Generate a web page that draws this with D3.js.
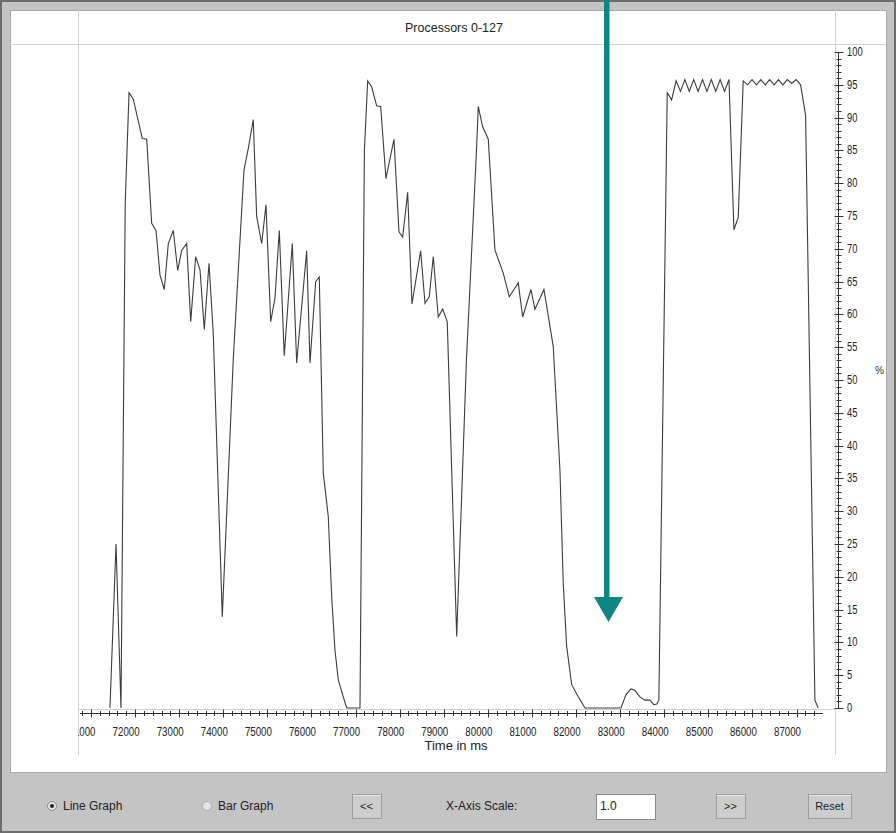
<!DOCTYPE html>
<html>
<head>
<meta charset="utf-8">
<script src="https://cdn.jsdelivr.net/npm/d3@7"></script>
<style>
  body { margin: 0; background: #c4c4c4; }
  svg { display: block; font-family: "Liberation Sans", Arial, sans-serif; }
</style>
</head>
<body>
<svg id="chart" width="896" height="833"></svg>
<script>
// Processor utilisation over time (%)
var timeMs = [71430, 71567, 71680, 71776, 71862, 71959, 72163, 72263, 72376, 72474,
  72565, 72662, 72753, 72866, 72966, 73057, 73170, 73261, 73374, 73472,
  73569, 73676, 73773, 73977, 74227, 74469, 74567, 74680, 74757, 74871,
  74968, 75075, 75172, 75270, 75383, 75565, 75664, 75891, 75966, 76095,
  76177, 76268, 76381, 76458, 76533, 76608, 76721, 76798, 77100, 77200,
  77274, 77365, 77478, 77569, 77689, 77871, 77984, 78068, 78181, 78279,
  78476, 78574, 78671, 78762, 78875, 78975, 79079, 79293, 79514, 79746,
  79782, 79882, 80009, 80161, 80349, 80485, 80689, 80789, 80977, 81068,
  81272, 81483, 81635, 81710, 81787, 81900, 82050, 82202, 83018, 83131,
  83243, 83333, 83449, 83560, 83673, 83764, 83832, 83878, 84068, 84168,
  84268, 84368, 84468, 84568, 84668, 84768, 84868, 84968, 85068, 85168,
  85268, 85368, 85468, 85580, 85678, 85791, 85891, 85991, 86091, 86191,
  86291, 86391, 86491, 86591, 86691, 86791, 86891, 86991, 87093, 87206,
  87417, 87492];
var utilPct = [0, 25, 0, 77, 93.8, 92.8, 86.8, 86.7, 73.9, 72.8,
  66, 63.8, 70.8, 72.8, 66.7, 69.8, 70.8, 58.9, 68.8, 66.8,
  57.7, 67.8, 57.1, 13.9, 53.3, 82, 85.3, 89.7, 74.9, 70.8,
  76.7, 58.9, 62.5, 72.8, 53.7, 70.8, 52.6, 69.7, 52.6, 65,
  65.7, 35.8, 29.2, 17, 8.8, 4.3, 1.7, 0, 0, 85,
  95.6, 94.7, 91.8, 91.7, 80.7, 86.7, 72.6, 71.8, 78.6, 61.6,
  69.7, 61.7, 62.7, 68.8, 59.6, 60.8, 58.9, 10.9, 53, 85.6,
  91.7, 88.6, 86.7, 69.8, 66.3, 62.7, 64.8, 59.6, 63.8, 60.8,
  63.8, 55.1, 36.2, 18.9, 9.4, 3.6, 1.7, 0, 0, 2,
  2.9, 2.7, 1.7, 1.2, 1.2, 0.5, 0.6, 1.2, 93.8, 92.7,
  95.6, 94, 95.8, 94, 95.8, 94, 95.8, 94, 95.8, 94,
  95.8, 94, 95.8, 72.9, 74.8, 95.6, 95, 95.8, 95, 95.8,
  95, 95.8, 95, 95.8, 95, 95.8, 95.2, 95.8, 95, 90.3,
  1.2, 0];

var xMajor = d3.range(71000, 87001, 1000);   // labelled ticks
var xMinor = d3.range(70800, 87501, 200);
var yMajor = d3.range(0, 101, 5);
var yMinor = d3.range(0, 101, 1);

var title = "Processors 0-127";
var xTitle = "Time in ms";
var yTitle = "%";

var svg = d3.select("#chart");

// window frame
svg.append("rect").attr("x", 1).attr("y", 1).attr("width", 894).attr("height", 831)
  .attr("fill", "#c4c4c4").attr("stroke", "#6c6c6c").attr("stroke-width", 2);
svg.append("rect").attr("x", 10.5).attr("y", 10.5).attr("width", 876).attr("height", 762)
  .attr("fill", "#fff").attr("stroke", "#a8a8a8");

var grid = svg.append("g").attr("stroke", "#d2d2d2").attr("stroke-width", 1);
grid.append("line").attr("x1", 10).attr("x2", 886).attr("y1", 44.5).attr("y2", 44.5);
grid.append("line").attr("x1", 78.5).attr("x2", 78.5).attr("y1", 10).attr("y2", 755);
grid.append("line").attr("x1", 835.5).attr("x2", 835.5).attr("y1", 10).attr("y2", 755);
grid.append("line").attr("x1", 78).attr("x2", 836).attr("y1", 709.5).attr("y2", 709.5);

svg.append("text").attr("x", 454).attr("y", 32).attr("text-anchor", "middle")
  .attr("font-size", 12.5).attr("fill", "#222").text(title);

// scales
var x = d3.scaleLinear().domain([70705, 87555]).range([78, 821]);
var y = d3.scaleLinear().domain([0, 100]).range([708, 52]);

svg.append("clipPath").attr("id", "plotclip")
  .append("rect").attr("x", 78).attr("y", 44).attr("width", 757).attr("height", 720);

// x axis (drawn a little under the plot frame, like the original)
var xa = svg.append("g").attr("stroke", "#333").attr("stroke-width", 1);
var axY = 713.5;
xa.append("line").attr("x1", 80).attr("x2", 823).attr("y1", axY).attr("y2", axY);
xa.selectAll(".mn").data(xMinor).join("line")
  .attr("x1", d => Math.round(x(d)) + 0.5).attr("x2", d => Math.round(x(d)) + 0.5)
  .attr("y1", axY - 2.5).attr("y2", axY + 2.5);
xa.selectAll(".mj").data(xMajor).join("line")
  .attr("x1", d => Math.round(x(d)) + 0.5).attr("x2", d => Math.round(x(d)) + 0.5)
  .attr("y1", axY - 4).attr("y2", axY + 4);

svg.append("g").attr("clip-path", "url(#plotclip)")
  .selectAll("text").data(xMajor).join("text")
  .attr("x", d => x(d) - 9).attr("y", 736)
  .attr("text-anchor", "middle").attr("font-size", 13).attr("fill", "#222")
  .attr("textLength", 27).attr("lengthAdjust", "spacingAndGlyphs")
  .text(d => d3.format("d")(d));

svg.append("text").attr("x", 456).attr("y", 750).attr("text-anchor", "middle")
  .attr("font-size", 13).attr("fill", "#222").text(xTitle);

// y axis on the right
var ya = svg.append("g").attr("stroke", "#333").attr("stroke-width", 1);
var axX = 838.5;
ya.append("line").attr("x1", axX).attr("x2", axX).attr("y1", y(100)).attr("y2", y(0) + 1);
ya.selectAll(".mn").data(yMinor).join("line")
  .attr("x1", axX - 2).attr("x2", axX + 3)
  .attr("y1", d => Math.round(y(d)) + 0.5).attr("y2", d => Math.round(y(d)) + 0.5);
ya.selectAll(".mj").data(yMajor).join("line")
  .attr("x1", axX - 4).attr("x2", axX + 5)
  .attr("y1", d => Math.round(y(d)) + 0.5).attr("y2", d => Math.round(y(d)) + 0.5);

svg.append("g").selectAll("text").data(yMajor).join("text")
  .attr("x", 847).attr("y", d => y(d) + 4)
  .attr("font-size", 12).attr("fill", "#222")
  .attr("textLength", d => String(d).length * 5.2).attr("lengthAdjust", "spacingAndGlyphs")
  .text(d => d);

svg.append("text").attr("x", 875).attr("y", 374).attr("font-size", 10)
  .attr("fill", "#333").text(yTitle);

// the utilisation line
var pts = timeMs.map((t, i) => ({ t: t, v: utilPct[i] }));
var line = d3.line().x(d => x(d.t)).y(d => y(d.v));
svg.append("path").datum(pts)
  .attr("fill", "none").attr("stroke", "#3c3c3c").attr("stroke-width", 1.1)
  .attr("stroke-linejoin", "miter").attr("d", line);

// control bar
var ctl = svg.append("g").attr("font-size", 12).attr("fill", "#222");
ctl.append("circle").attr("cx", 52).attr("cy", 806).attr("r", 4.5)
  .attr("fill", "#e4e4e4").attr("stroke", "#8a8a8a");
ctl.append("circle").attr("cx", 52).attr("cy", 806).attr("r", 2).attr("fill", "#222");
ctl.append("text").attr("x", 63).attr("y", 810).text("Line Graph");
ctl.append("circle").attr("cx", 207).attr("cy", 806).attr("r", 4.5)
  .attr("fill", "#e4e4e4").attr("stroke", "#b0b0b0");
ctl.append("text").attr("x", 218).attr("y", 810).text("Bar Graph");

function button(x0, w, label) {
  var g = ctl.append("g");
  g.append("rect").attr("x", x0 + 0.5).attr("y", 794.5).attr("width", w).attr("height", 24)
    .attr("fill", "#cdcdcd").attr("stroke", "#9c9c9c");
  g.append("line").attr("x1", x0 + 1).attr("x2", x0 + w).attr("y1", 795.5).attr("y2", 795.5)
    .attr("stroke", "#ececec");
  g.append("text").attr("x", x0 + w / 2).attr("y", 810).attr("text-anchor", "middle")
    .attr("font-size", 11).text(label);
}
button(352, 29, "<<");
button(716, 29, ">>");
button(808, 43, "Reset");

ctl.append("text").attr("x", 446).attr("y", 810).text("X-Axis Scale:");
ctl.append("rect").attr("x", 596.5).attr("y", 794.5).attr("width", 59).attr("height", 25)
  .attr("fill", "#fff").attr("stroke", "#8a8a8a");
ctl.append("text").attr("x", 600).attr("y", 810).text("1.0");

// teal annotation arrow
var arrow = svg.append("g").attr("fill", "#0f8683");
arrow.append("rect").attr("x", 604).attr("y", 0).attr("width", 5.5).attr("height", 600);
arrow.append("path").attr("d", d3.line()([[594, 597], [623, 597], [608.5, 622]]) + "Z");
</script>
</body>
</html>
